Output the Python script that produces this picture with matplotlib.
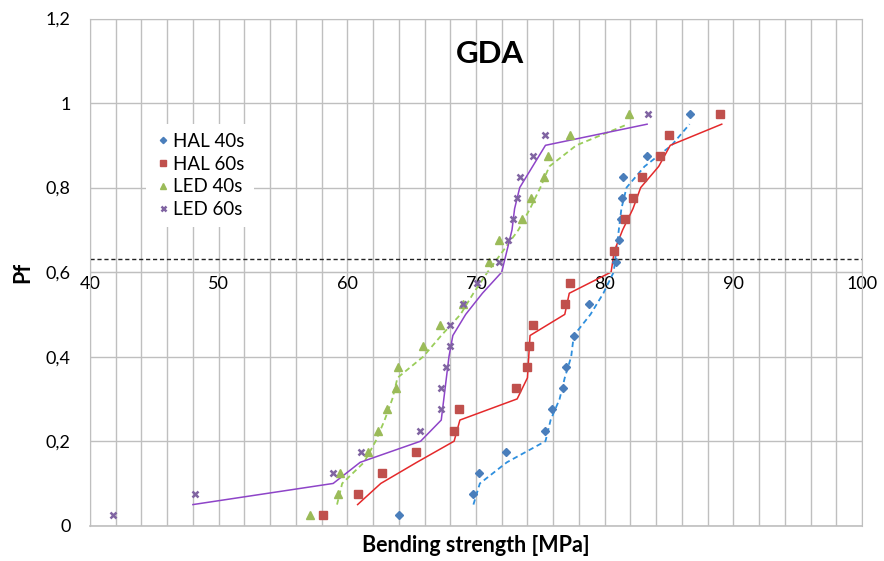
import matplotlib
matplotlib.use("Agg")
import matplotlib.pyplot as plt
from matplotlib.ticker import MultipleLocator

plt.rcParams['font.family'] = ['Lato', 'DejaVu Sans']

# Points (Pf vs. bending strength)
hal40_x = [64.0, 69.8, 70.2, 72.3, 75.4, 75.9, 76.8, 77.0, 77.6, 78.8,
           80.9, 81.1, 81.25, 81.35, 81.45, 83.3, 86.6]
hal40_pf = [0.025, 0.075, 0.125, 0.175, 0.225, 0.275, 0.325, 0.375, 0.45, 0.525,
            0.625, 0.675, 0.725, 0.775, 0.825, 0.875, 0.975]

hal60_x = [58.1, 60.85, 62.7, 65.3, 68.3, 68.7, 73.1, 74.0, 74.15, 74.4,
           76.95, 77.3, 80.7, 81.6, 82.2, 82.9, 84.3, 85.0, 89.0]
hal60_pf = [0.025, 0.075, 0.125, 0.175, 0.225, 0.275, 0.325, 0.375, 0.425, 0.475,
            0.525, 0.575, 0.65, 0.725, 0.775, 0.825, 0.875, 0.925, 0.975]

led40_x = [57.1, 59.25, 59.4, 61.6, 62.4, 63.05, 63.75, 63.9, 65.85, 67.2,
           69.0, 71.0, 71.8, 73.6, 74.3, 75.3, 75.6, 77.3, 81.9]
led40_pf = [0.025, 0.075, 0.125, 0.175, 0.225, 0.275, 0.325, 0.375, 0.425, 0.475,
            0.525, 0.625, 0.675, 0.725, 0.775, 0.825, 0.875, 0.925, 0.975]

led60_x = [41.8, 48.2, 58.9, 61.05, 65.65, 67.25, 67.3, 67.7, 68.0, 68.0,
           69.0, 70.05, 71.8, 72.5, 72.9, 73.2, 73.4, 74.4, 75.4, 83.4]
led60_pf = [0.025, 0.075, 0.125, 0.175, 0.225, 0.275, 0.325, 0.375, 0.425, 0.475,
            0.525, 0.575, 0.625, 0.675, 0.725, 0.775, 0.825, 0.875, 0.925, 0.975]

# Fitted curves
pf_fit = [0.05, 0.10, 0.15, 0.20, 0.25, 0.30, 0.35, 0.40, 0.45, 0.50,
          0.55, 0.60, 0.65, 0.70, 0.75, 0.80, 0.85, 0.90, 0.95]
hal40_fit = [69.8, 70.3, 72.4, 75.4, 75.8, 76.5, 76.9, 77.4, 77.6, 78.9,
             79.9, 80.7, 80.9, 81.1, 81.3, 81.7, 83.1, 85.2, 86.6]
hal60_fit = [60.8, 62.6, 65.4, 68.3, 68.75, 73.2, 74.0, 74.1, 74.2, 76.9,
             77.25, 80.5, 80.75, 81.4, 82.2, 82.8, 84.2, 85.1, 89.1]
led40_fit = [59.2, 59.6, 61.3, 62.2, 62.9, 63.5, 63.9, 65.9, 67.3, 68.8,
             69.8, 70.9, 72.1, 73.3, 74.2, 75.0, 75.7, 77.8, 81.8]
led60_fit = [48.0, 58.9, 61.0, 65.7, 67.3, 67.5, 67.7, 67.9, 68.2, 69.2,
             70.5, 72.0, 72.4, 72.8, 73.0, 73.4, 74.4, 75.4, 83.3]

x_ticks = [40, 50, 60, 70, 80, 90, 100]
y_ticks = [0, 0.2, 0.4, 0.6, 0.8, 1.0, 1.2]
y_labels = ["0", "0,2", "0,4", "0,6", "0,8", "1", "1,2"]
pf_line = 0.632

grid_c = '#BFBFBF'

fig = plt.figure(figsize=(8.84, 5.61), dpi=100)
ax = fig.add_axes([0.1018, 0.0629, 0.8733, 0.9041])

# fitted lines
ax.plot(hal40_fit, pf_fit, color='#2E8FDE', lw=1.3, ls=(0, (3, 2)))
ax.plot(hal60_fit, pf_fit, color='#E4292B', lw=1.1)
ax.plot(led40_fit, pf_fit, color='#9ACD5A', lw=1.3, ls=(0, (3, 2)))
ax.plot(led60_fit, pf_fit, color='#8E44C8', lw=1.1)

# points
ax.plot(hal40_x, hal40_pf, 'D', color='#4A7EBB', ms=4, label='HAL 40s')
ax.plot(hal60_x, hal60_pf, 's', color='#C0504D', ms=5.5, label='HAL 60s')
ax.plot(led40_x, led40_pf, '^', color='#9BBB59', ms=6, label='LED 40s')
ax.plot(led60_x, led60_pf, 'x', color='#8064A2', ms=4.5, mew=1.8, label='LED 60s')

ax.axhline(pf_line, color='#222222', lw=1, ls=(0, (3, 2)))

ax.set_xlim(40, 100)
ax.set_ylim(0, 1.2)
ax.set_xticks(x_ticks)
ax.set_xticklabels([str(v) for v in x_ticks])
ax.xaxis.set_minor_locator(MultipleLocator(2))
ax.set_yticks(y_ticks)
ax.set_yticklabels(y_labels)

ax.grid(True, which='both', axis='x', color=grid_c, lw=1)
ax.grid(True, which='major', axis='y', color=grid_c, lw=1)
ax.set_axisbelow(True)

for s in ['left', 'right', 'top']:
    ax.spines[s].set_color(grid_c)
ax.spines['bottom'].set_position(('data', 0.6))
ax.spines['bottom'].set_color(grid_c)
ax.axhline(0, color=grid_c, lw=1.2, clip_on=False)

ax.tick_params(axis='both', which='both', length=0)
ax.tick_params(axis='x', pad=3, labelsize=13)
ax.tick_params(axis='y', pad=14, labelsize=13)

ax.set_xlabel("Bending strength [MPa]", fontsize=15.5, fontweight='bold')
ax.xaxis.set_label_coords(0.5, -0.018)
ax.set_ylabel("Pf", fontsize=15.5, fontweight='bold')
ax.yaxis.set_label_coords(-0.073, 0.5)

ax.text(0.518, 0.930, "GDA", transform=ax.transAxes, fontsize=22.5, fontweight='bold',
        ha='center', va='center')

leg = ax.legend(loc='upper left', bbox_to_anchor=(0.0725, 0.793), borderaxespad=0,
                frameon=True, fancybox=False, framealpha=1, facecolor='white',
                edgecolor='none', fontsize=13.5, handlelength=0.8, handletextpad=0.15,
                labelspacing=0.3, borderpad=0.5, markerscale=0.8)

fig.savefig("out.png", dpi=100)
